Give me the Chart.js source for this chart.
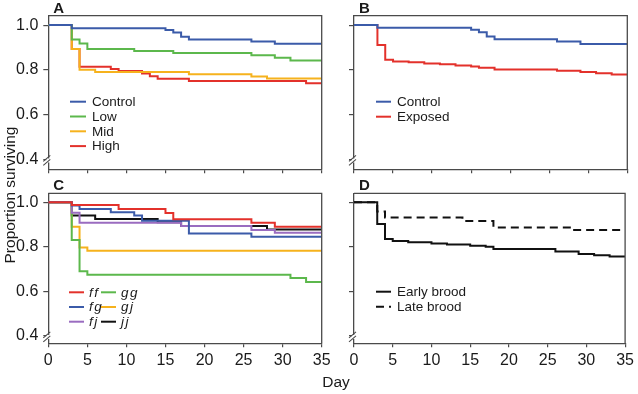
<!DOCTYPE html>
<html><head><meta charset="utf-8">
<script src="https://cdn.jsdelivr.net/npm/chart.js@4/dist/chart.umd.min.js"></script>
<style>
html,body{margin:0;padding:0;background:#fff;}
#wrap{position:relative;width:638px;height:394px;overflow:hidden;background:#fff;}
canvas{position:absolute;left:0;top:0;width:638px;height:394px;}
</style></head><body>
<div id="wrap">
<canvas id="cA" width="638" height="394"></canvas>
<canvas id="cB" width="638" height="394"></canvas>
<canvas id="cC" width="638" height="394"></canvas>
<canvas id="cD" width="638" height="394"></canvas>
</div>
<script>
// ---------- data ----------
const xTickValues = [0, 5, 10, 15, 20, 25, 30, 35];
const yTickValues = [0.4, 0.6, 0.8, 1.0];
const xAxisTitle = "Day";
const yAxisTitle = "Proportion surviving";

// Panel A
const aLabels = ["Control", "Low", "Mid", "High"];
const aControlDays = [0, 3, 15, 16, 17, 18, 26, 29, 35];
const aControlSurv = [1, 0.986, 0.978, 0.967, 0.948, 0.936, 0.927, 0.917, 0.917];
const aLowDays = [0, 3, 4, 5, 11, 16, 26, 29, 31, 35];
const aLowSurv = [1, 0.936, 0.918, 0.893, 0.884, 0.875, 0.865, 0.854, 0.842, 0.842];
const aMidDays = [0, 3, 4, 6, 18, 26, 28, 35];
const aMidSurv = [1, 0.893, 0.801, 0.791, 0.781, 0.771, 0.761, 0.761];
const aHighDays = [0, 3, 4, 8, 9, 12, 13, 14, 18, 33, 35];
const aHighSurv = [1, 0.893, 0.814, 0.804, 0.795, 0.784, 0.772, 0.760, 0.750, 0.740, 0.740];

// Panel B
const bLabels = ["Control", "Exposed"];
const bControlDays = [0, 3, 15, 16, 17, 18, 26, 29, 35];
const bControlSurv = [1, 0.988, 0.979, 0.968, 0.949, 0.937, 0.927, 0.916, 0.916];
const bExposedDays = [0, 3, 4, 5, 7, 9, 11, 13, 15, 16, 18, 26, 29, 31, 33, 35];
const bExposedSurv = [1, 0.911, 0.845, 0.838, 0.834, 0.829, 0.825, 0.820, 0.815, 0.810, 0.802, 0.796, 0.790, 0.785, 0.779, 0.779];

// Panel C
const cLabels = ["ff", "fg", "fj", "gg", "gj", "jj"];
const cFFDays = [0, 3, 9, 15, 16, 26, 29, 35];
const cFFSurv = [1, 0.987, 0.970, 0.952, 0.924, 0.908, 0.890, 0.890];
const cFGDays = [0, 3, 4, 8, 11, 12, 18, 26, 35];
const cFGSurv = [1, 0.985, 0.970, 0.955, 0.940, 0.917, 0.860, 0.845, 0.845];
const cFJDays = [0, 3, 4, 17, 26, 29, 35];
const cFJSurv = [1, 0.953, 0.908, 0.893, 0.875, 0.863, 0.863];
const cGGDays = [0, 3, 4, 5, 31, 33, 35];
const cGGSurv = [1, 0.830, 0.690, 0.675, 0.660, 0.642, 0.642];
const cGJDays = [0, 3, 4, 5, 35];
const cGJSurv = [1, 0.890, 0.797, 0.782, 0.782];
const cJJDays = [0, 3, 6, 14, 17, 28, 35];
const cJJSurv = [1, 0.940, 0.925, 0.910, 0.893, 0.878, 0.878];

// Panel D
const dLabels = ["Early brood", "Late brood"];
const dEarlyDays = [0, 3, 4, 5, 7, 10, 12, 15, 17, 18, 26, 29, 31, 33, 35];
const dEarlySurv = [1, 0.902, 0.835, 0.826, 0.820, 0.815, 0.810, 0.805, 0.800, 0.790, 0.779, 0.768, 0.762, 0.756, 0.756];
const dLateDays = [0, 3, 4, 14, 18, 28, 35];
const dLateSurv = [1, 0.958, 0.931, 0.916, 0.887, 0.875, 0.875];

// ---------- styling ----------
const FAM = '"Liberation Sans", Arial, Helvetica, sans-serif';
const AX = '#4a4a4a';
const TXT = '#1a1a1a';
const BLUE = '#3b5ba9', GREEN = '#5cb84c', ORANGE = '#f6b21d', RED = '#e3312b', PURPLE = '#9a6cc0', BLACK = '#111111';

function pts(days, surv) { return days.map((d, i) => ({ x: d, y: surv[i] })); }
function ds(label, days, surv, color, dash) {
  return { label, data: pts(days, surv), borderColor: color, backgroundColor: color, borderWidth: 2,
    borderDash: dash || [], stepped: true, pointRadius: 0, fill: false, tension: 0 };
}

const panelDecor = {
  id: 'panelDecor',
  afterDraw(chart, args, o) {
    const ctx = chart.ctx, a = chart.chartArea, ys = chart.scales.y;
    ctx.save();
    ctx.strokeStyle = AX; ctx.lineWidth = 1.3;
    ctx.beginPath();
    ctx.moveTo(a.left, a.top); ctx.lineTo(a.right, a.top); ctx.lineTo(a.right, a.bottom);
    ctx.stroke();
    const by = ys.getPixelForValue(0.4) + 1;
    ctx.fillStyle = '#fff';
    ctx.fillRect(a.left - 2, by - 2, 4, 4);
    ctx.strokeStyle = AX; ctx.lineWidth = 1.1;
    ctx.beginPath();
    ctx.moveTo(a.left - 5, by + 1); ctx.lineTo(a.left + 2, by - 5);
    ctx.moveTo(a.left - 5, by + 5); ctx.lineTo(a.left + 2, by - 1);
    ctx.stroke();
    ctx.fillStyle = TXT; ctx.font = 'bold 15px ' + FAM;
    ctx.textAlign = 'left'; ctx.textBaseline = 'middle';
    ctx.fillText(o.letter, a.left + 5, a.top - 7);
    const L = o.legend;
    ctx.font = (L.italic ? 'italic ' : '') + '13.5px ' + FAM;
    if (L.spacing) ctx.letterSpacing = L.spacing;
    chart.data.datasets.forEach((d, i) => {
      const col = Math.floor(i / L.rows), row = i % L.rows;
      const lx = L.x + col * L.colW, ly = L.y + row * L.rowH;
      ctx.strokeStyle = d.borderColor; ctx.lineWidth = 2;
      ctx.setLineDash(d.borderDash || []);
      ctx.beginPath(); ctx.moveTo(lx, ly); ctx.lineTo(lx + L.len, ly); ctx.stroke();
      ctx.setLineDash([]);
      ctx.fillStyle = TXT;
      ctx.fillText(d.label, lx + L.len + L.gap, ly + 0.5);
    });
    ctx.letterSpacing = '0px';
    if (o.titles) {
      ctx.font = '15.5px ' + FAM; ctx.fillStyle = TXT;
      ctx.textAlign = 'center'; ctx.textBaseline = 'middle';
      ctx.fillText(xAxisTitle, 336, 383);
      ctx.translate(11, 195); ctx.rotate(-Math.PI / 2);
      ctx.fillText(yAxisTitle, 0, 0);
    }
    ctx.restore();
  }
};

function makeChart(id, g, datasets, decor) {
  return new Chart(document.getElementById(id), {
    type: 'line',
    data: { datasets },
    plugins: [panelDecor],
    options: {
      responsive: false, animation: false, devicePixelRatio: 1,
      layout: { padding: { top: g.top, left: 0, right: 638 - g.right, bottom: 0 } },
      plugins: { legend: { display: false }, tooltip: { enabled: false }, title: { display: false }, panelDecor: decor },
      scales: {
        x: {
          type: 'linear', min: 0, max: 35,
          afterBuildTicks: s => { s.ticks = xTickValues.map(v => ({ value: v })); },
          afterFit: s => { s.height = 394 - g.bottom; },
          grid: { display: true, drawOnChartArea: false, drawTicks: true, tickLength: 4, color: AX, lineWidth: 1.2 },
          border: { display: true, color: AX, width: 1.3 },
          ticks: { display: g.xLabels, color: TXT, font: { size: 16, family: FAM }, padding: 4, maxRotation: 0, autoSkip: false }
        },
        y: {
          type: 'linear', min: g.ymin, max: g.ymax,
          afterBuildTicks: s => { s.ticks = yTickValues.map(v => ({ value: v })); },
          afterFit: s => { s.width = g.left; },
          grid: { display: true, drawOnChartArea: false, drawTicks: true, tickLength: 5, color: AX, lineWidth: 1.2 },
          border: { display: true, color: AX, width: 1.3 },
          ticks: { display: g.yLabels, color: TXT, font: { size: 16, family: FAM }, padding: 5,
            callback: v => Number(v).toFixed(1) }
        }
      }
    }
  });
}

const TOP = { top: 15.7, bottom: 169.3, ymin: 0.356, ymax: 1.042 };
const BOT = { top: 193.3, bottom: 343.3, ymin: 0.367, ymax: 1.040 };

makeChart('cA', Object.assign({ left: 48.3, right: 321.7, xLabels: false, yLabels: true }, TOP), [
  ds(aLabels[0], aControlDays, aControlSurv, BLUE),
  ds(aLabels[1], aLowDays, aLowSurv, GREEN),
  ds(aLabels[2], aMidDays, aMidSurv, ORANGE),
  ds(aLabels[3], aHighDays, aHighSurv, RED)
], { letter: 'A', legend: { x: 70, y: 101.7, rowH: 14.8, rows: 4, colW: 0, len: 16, gap: 6 } });

makeChart('cB', Object.assign({ left: 354, right: 627.3, xLabels: false, yLabels: false }, TOP), [
  ds(bLabels[0], bControlDays, bControlSurv, BLUE),
  ds(bLabels[1], bExposedDays, bExposedSurv, RED)
], { letter: 'B', legend: { x: 376, y: 101.7, rowH: 15, rows: 2, colW: 0, len: 15, gap: 6 } });

makeChart('cC', Object.assign({ left: 48.3, right: 321.7, xLabels: true, yLabels: true }, BOT), [
  ds(cLabels[0], cFFDays, cFFSurv, RED),
  ds(cLabels[1], cFGDays, cFGSurv, BLUE),
  ds(cLabels[2], cFJDays, cFJSurv, PURPLE),
  ds(cLabels[3], cGGDays, cGGSurv, GREEN),
  ds(cLabels[4], cGJDays, cGJSurv, ORANGE),
  ds(cLabels[5], cJJDays, cJJSurv, BLACK)
], { letter: 'C', titles: true, legend: { x: 69, y: 292.3, rowH: 14.7, rows: 3, colW: 32, len: 15, gap: 5, italic: true, spacing: '1.5px' } });

makeChart('cD', Object.assign({ left: 354, right: 627.3, xLabels: true, yLabels: false }, BOT), [
  ds(dLabels[0], dEarlyDays, dEarlySurv, BLACK),
  ds(dLabels[1], dLateDays, dLateSurv, BLACK, [8, 5])
], { letter: 'D', legend: { x: 376, y: 291.7, rowH: 15, rows: 2, colW: 0, len: 15, gap: 6 } });
</script>
</body></html>
